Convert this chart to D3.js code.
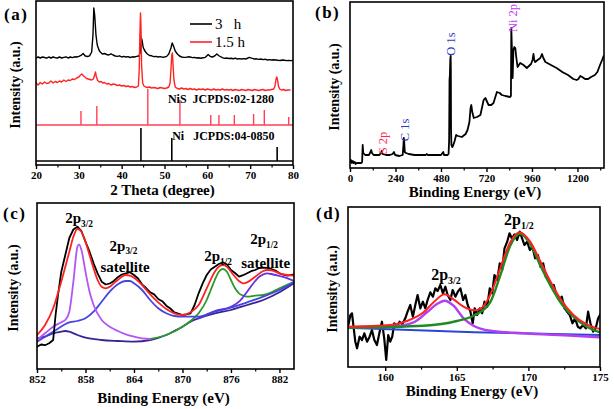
<!DOCTYPE html>
<html><head><meta charset="utf-8">
<script src="https://cdn.jsdelivr.net/npm/d3@7"></script>
<style>
body{margin:0;background:#fff}
svg{display:block;font-family:"Liberation Serif","Times New Roman",serif}
</style></head><body>
<svg id="chart" width="614" height="409"></svg>
<script>
// ---------------- DATA ----------------
// (a) XRD patterns [2theta, intensity a.u.]
const xrd3h = [[20,107],[20.5,108],[21,107],[21.5,108],[22,107.5],[22.5,106.8],[23,108],[23.5,107],[24,108],[24.5,107.3],[25,107],[25.5,108],[26,107],[26.5,107.6],[27,108.2],[27.5,107],[28,108],[28.5,107.4],[29,108.2],[29.5,108],[30,108.6],[30.5,109.6],[31,111.5],[31.5,109],[32,108.5],[32.5,109.2],[33,113],[33.3,130],[33.5,157],[33.7,150],[34,130],[34.3,120],[34.7,115],[35,113],[35.5,111],[36,111.5],[36.5,110.5],[37,110],[37.5,111.2],[38,110],[38.5,109],[39,108.6],[39.5,109.2],[40,108],[40.5,108.6],[41,108],[41.5,108.4],[42,107.5],[42.5,108.2],[43,108],[43.5,108.6],[44,109],[44.3,112],[44.6,127],[44.8,124],[45,118],[45.3,115],[45.6,113],[46,111],[46.5,109.5],[47,109.2],[47.5,108.4],[48,108.6],[48.5,108],[49,108.4],[49.5,107.8],[50,108],[50.5,108.6],[51,111],[51.5,117],[51.8,122],[52.1,119],[52.5,114],[53,111],[53.5,109],[54,108],[54.5,107.6],[55,107.6],[55.5,108.2],[56,108],[56.5,107.4],[57,107.6],[57.5,107],[58,107.2],[58.5,106.8],[59,107.2],[59.5,107.6],[60.2,110.5],[60.7,108.5],[61.2,108],[61.7,109],[62.2,111],[62.8,109],[63.5,107.4],[64,106.6],[64.5,107],[65,106.5],[65.5,106.8],[66,106.3],[66.5,106.8],[67,106],[67.5,106.4],[68,106],[68.5,106.4],[69,106],[69.8,107.6],[70.5,106.6],[71,106],[71.5,106.2],[72,105.6],[72.5,106],[73,105.4],[73.5,105.8],[74,105],[74.5,105.4],[75,105],[75.5,105.3],[76,105],[76.5,104.7],[77,104.5],[77.5,105],[78,104.8],[78.5,104.4],[79,104.6],[79.5,104.4],[80,104.5]];
const xrd15h = [[20,82],[20.5,80],[21,82.5],[21.5,81],[22,83],[22.5,81.5],[23,82],[23.5,84],[24,82],[24.5,83.5],[25,82.5],[25.5,84],[26,83],[26.5,85],[27,83.5],[27.5,85],[28,84.5],[28.5,86],[29,85.5],[29.5,87],[30,88],[30.4,90],[30.7,91],[31,89.5],[31.4,88],[31.8,86.5],[32.2,86],[32.6,85.5],[33,85],[33.4,86],[33.7,90],[33.9,93],[34.1,88],[34.4,84.5],[34.8,83],[35.2,83.5],[35.6,82],[36,82.5],[36.5,81],[37,81.5],[37.5,80],[38,81],[38.5,80.5],[39,79.5],[39.5,80],[40,79],[40.5,79.5],[41,78.5],[41.5,79],[42,78],[42.5,78.5],[43,77.5],[43.5,78],[43.9,79],[44.1,95],[44.25,130],[44.4,152],[44.5,140],[44.65,100],[44.9,82],[45.2,79],[45.6,78],[46,77.5],[46.5,78],[47,77],[47.5,77.5],[48,77],[48.5,76.5],[49,77.5],[49.5,77],[50,76.5],[50.5,77],[51,78],[51.3,82],[51.5,95],[51.7,110],[51.85,112],[52,100],[52.2,85],[52.5,78],[53,76.5],[53.5,76],[54,77],[54.5,76],[55,76.5],[55.5,75.5],[56,76.5],[56.5,75.5],[57,76],[57.5,75],[58,76],[58.5,75.5],[59,76],[59.5,75],[60,76],[60.5,75.5],[61,75],[61.5,76],[62,75],[62.5,75.5],[63,75],[63.5,76],[64,75],[64.5,75.5],[65,75],[65.5,75.5],[66,74.5],[66.5,75.5],[67,75],[67.5,74.5],[68,75.5],[68.5,75],[69,74.5],[69.5,75.5],[70,75],[70.5,74.5],[71,75.5],[71.5,75],[72,74.5],[72.5,75],[73,75.5],[73.5,74.5],[74,75],[74.5,75],[75,75.5],[75.5,76],[75.8,79],[76,85],[76.2,88],[76.4,85],[76.6,79],[76.9,76],[77.3,75],[77.8,75.5],[78.3,74.5],[78.8,75],[79.3,75]];
const nisPos = [30.5,34.2,46.1,53.6,60.8,62.7,66.3,70.8,73.3,79.0];
const nisHeight = [14,19,36,25,10,10,10,11,15,8];
const nisBase = 40;
const niPos = [44.5,51.7,76.3];
const niHeight = [33,23,14];
const niBase = 4;
const aTicks = [20,30,40,50,60,70,80];
const aMinor = [25,35,45,55,65,75];
const aLegend = ["3   h","1.5 h"];

// (b) XPS survey [binding energy eV, intensity]
const survey = [[0,6],[5,8],[10,5],[15,7],[20,5],[25,6],[30,4],[35,5],[40,5],[50,5],[60,5],[64,6],[66,18],[67,23],[68,20],[70,15],[75,14],[80,13],[90,13],[100,13],[108,16],[112,18],[116,15],[125,13],[140,13],[155,13],[163,15],[167,17],[172,14],[190,13],[210,13],[225,14],[232,16],[238,13],[260,12],[278,13],[282,23],[284,30],[286,26],[289,16],[295,15],[310,14],[340,13],[370,13],[400,13],[405,14],[410,13],[440,13],[480,13],[488,15],[492,16],[496,13],[515,13],[520,14],[523,28],[525,88],[527,93],[529,108],[531,112],[532,98],[533,38],[535,23],[540,21],[545,23],[552,27],[560,33],[570,32],[590,31],[610,34],[620,38],[630,46],[636,60],[640,63],[645,56],[653,50],[670,51],[688,53],[705,68],[714,70],[731,63],[745,63],[757,65],[775,76],[790,75],[801,73],[820,72],[845,71],[849,72],[851,140],[854,120],[858,90],[862,118],[867,121],[872,120],[877,111],[884,101],[898,105],[915,103],[933,100],[955,104],[963,108],[968,114],[972,108],[977,106],[990,108],[1004,110],[1013,114],[1020,110],[1031,106],[1060,103],[1090,100],[1120,96],[1150,93],[1178,89],[1196,88],[1205,89],[1215,92],[1225,91],[1240,89],[1256,89],[1272,91],[1292,93],[1305,96],[1319,103],[1330,108],[1338,112]];
const surveyLabels = ["S 2p","C 1s","O 1s","Ni 2p"];
const surveyLabelE = [172,290,532,860];
const surveyLabelI = [25,38,124,150];
const surveyLabelColors = ["#ff2a4a","#3434c0","#3434c0","#c040f0"];
const bTicks = [0,240,480,720,960,1200];
const bMinor = [120,360,600,840,1080,1320];

// (c) Ni 2p high resolution [eV, intensity]
const ni2pRaw = [[852,22.3],[852.5,24.5],[853,23.8],[853.5,25.7],[854,29],[854.3,54],[854.6,74],[855,97],[855.5,114],[856,131],[856.5,139.5],[857,142.3],[857.5,137.8],[858,127.3],[858.5,117.3],[859,105.7],[859.5,95.7],[860,87.3],[860.5,84.5],[861,85.5],[861.5,88],[862,91.8],[862.5,94.5],[863,95.7],[863.5,96.8],[864,94],[864.5,90.5],[865,84.7],[865.5,81],[866,76.7],[866.5,74.6],[867,70],[867.5,67.8],[868,63.3],[868.5,60.5],[869,56.7],[869.5,55.3],[870,54],[870.5,54.6],[871,55.7],[871.5,64],[872,75.7],[872.5,85.7],[873,94],[873.5,99.5],[874,102.3],[874.5,105],[875,106.7],[875.5,104.5],[876,99],[876.5,96],[877,92.3],[877.5,93.8],[878,95.7],[878.5,97.8],[879,99],[879.5,101],[880,101.3],[880.5,101.2],[881,100],[881.5,98.5],[882,95.7],[882.5,94.4],[883,93.3],[883.8,94.7]];
const ni2pFit = [[852,34],[853,44],[854,60.7],[855,87.3],[856,117.3],[856.5,132.3],[857,140],[857.5,137.3],[858,127.3],[858.5,114],[859,100.7],[859.5,89],[860,82.3],[860.5,80.7],[861,82.3],[861.5,85.7],[862,89],[862.5,92.3],[863,94],[863.5,93.3],[864,91.3],[865,84],[866,74.7],[867,66.7],[868,60],[869,55.7],[870,54],[871,56.7],[872,64],[873,80.7],[874,97.3],[874.5,102.3],[875,104],[875.5,102.3],[876,97.3],[877,88],[877.5,85.7],[878,86.7],[879,92.3],[880,98],[880.5,99],[881,98.7],[882,95.7],[883,94],[883.8,93.3]];
const ni2p32 = [[852,29],[853,35.7],[854,42.3],[855,46.7],[855.5,49],[856,57.3],[856.5,87.3],[857,122.3],[857.2,124.7],[857.5,119],[858,97.3],[858.5,77.3],[859,64],[860,49],[861,42.3],[862,38],[863,34.7],[864,32.3],[865,30.7],[866,30]];
const ni2p32Sat = [[852,27.3],[854,37.3],[856,46.7],[857,48],[858,50.7],[859,57.3],[860,67.3],[861,77.3],[862,84.7],[863,88],[863.5,88],[864,85.7],[865,79],[866,69],[867,60.7],[868,55.7],[869,53],[870,52.3],[872,52.3],[874,57.3],[876,61.3],[878,66.7],[880,72.3],[882,79],[883.8,86.7]];
const ni2pBg = [[852,30.7],[853,32.3],[854,35.7],[855,37.3],[855.5,38],[856,37.3],[857,34],[858,31.3],[860,29],[862,28],[864,27.3],[866,29],[868,34],[869,38],[870,42.3],[871,47.3],[872,50.7],[874,55.7],[876,59],[878,64],[880,69],[882,76.7],[883.8,85.7]];
const ni2p12 = [[866,30],[868,34],[870,42.3],[871,48],[872,55.7],[873,69],[873.5,79],[874,89],[874.5,97.3],[875,100],[875.5,97.3],[876,89],[876.5,80.7],[877,75.7],[877.5,73.3],[878,72.3],[879,73.3],[880,74],[881,76.7],[882,80.7],[883.8,87.3]];
const ni2p12Sat = [[872,51],[874,58],[876,62.3],[877,67.3],[878,77.3],[879,88],[879.5,92.3],[880,94.7],[880.5,95.7],[881,95],[882,93],[883,90.7],[883.8,88]];
const cTicks = [852,858,864,870,876,882];
const cMinor = [855,861,867,873,879];

// (d) S 2p high resolution [eV, intensity]
const s2pRaw = [[157.38,38.7],[157.57,52],[157.68,53.7],[157.8,38.7],[157.91,25.3],[158.03,18.7],[158.21,30.3],[158.38,27],[158.54,33.7],[158.73,25.3],[158.91,30.3],[159.07,37],[159.24,27],[159.42,22],[159.61,35.3],[159.77,45.3],[159.93,28.7],[160.07,7],[160.21,32],[160.35,25.3],[160.49,30.3],[160.63,43.7],[160.82,40.3],[161,45.3],[161.19,42.7],[161.4,48.7],[161.56,55.3],[161.75,62],[161.93,50.3],[162.1,62],[162.26,72],[162.45,58.7],[162.63,65.3],[162.8,58.7],[162.96,67],[163.15,74.7],[163.33,70.3],[163.5,78.7],[163.66,76],[163.85,82],[164.03,73.7],[164.2,80.3],[164.36,72],[164.55,67],[164.71,77],[164.9,70.3],[165.07,75.3],[165.25,78.7],[165.44,67],[165.6,72],[165.76,62],[165.95,55.3],[166.11,43.7],[166.25,58.7],[166.42,52],[166.6,58.7],[166.77,53.7],[166.93,65.3],[167.12,60.3],[167.3,78.7],[167.47,73.7],[167.63,92],[167.82,87],[168,103.7],[168.17,97],[168.33,118.7],[168.52,125.3],[168.68,133.7],[168.84,128.7],[169.03,132.7],[169.21,127],[169.4,135.3],[169.56,128.7],[169.72,122],[169.91,125.3],[170.1,117],[170.28,120.3],[170.47,108.7],[170.66,112],[170.84,100.3],[171.03,103.7],[171.21,90.3],[171.4,87],[171.59,80.3],[171.77,82],[171.96,72],[172.15,67],[172.33,70.3],[172.52,58.7],[172.7,55.3],[172.89,52],[173.08,43.7],[173.26,48.7],[173.45,40.3],[173.63,38.7],[173.82,42],[174.01,38.7],[174.17,55.3],[174.33,43.7],[174.52,35.3],[174.7,38.7],[174.87,48.7],[175,52]];
const s2pFit = [[157.38,40.3],[160.35,42],[161.51,46],[162.68,54.7],[163.38,64.7],[164.14,72.7],[164.77,67.7],[165.47,60.3],[166.16,56.7],[166.63,58],[167.33,72],[168.03,98.7],[168.73,124.7],[169.38,134.7],[170.12,125.3],[170.82,106],[171.52,86],[172.21,68.7],[173.14,52],[174.07,42.7],[175,38]];
const s2p32 = [[157.38,39.3],[160.35,40.3],[161.98,44.7],[162.91,54.7],[163.61,63],[164.14,66.3],[164.77,61.3],[165.47,48.7],[166.16,41.3],[167.33,36.3],[169.65,33.7],[173.14,31.3],[175,29.7]];
const s2p12 = [[157.38,39.3],[162.68,41.3],[165,46],[166.16,51.3],[167.33,64.7],[168.03,91.3],[168.73,121.3],[169.38,133.3],[170.12,123.3],[170.82,102],[171.52,82],[172.21,65.3],[173.14,50.3],[174.07,40.3],[175,34.7]];
const s2pBg = [[157.38,39.3],[166.2,34.7],[175,32]];
const dTicks = [160,165,170,175];
const dMinor = [162.5,167.5,172.5];

// ---------------- DRAWING ----------------
const svg = d3.select("#chart");
const F = '"Liberation Serif","Times New Roman",serif';

function panel(id, box, xDom, yDom, ticks, minor, xTitle, titleY, letter, letterPos, yTitleX) {
  const x = d3.scaleLinear().domain(xDom).range([box.l, box.r]);
  const y = d3.scaleLinear().domain(yDom).range([box.b, box.t]);
  const g = svg.append("g");
  svg.append("clipPath").attr("id", "clip" + id).append("rect")
    .attr("x", box.l).attr("y", box.t).attr("width", box.r - box.l).attr("height", box.b - box.t);
  const plot = g.append("g").attr("clip-path", `url(#clip${id})`);
  const ax = g.append("g").attr("transform", `translate(0,${box.b})`)
    .call(d3.axisBottom(x).tickValues(ticks).tickSize(4).tickSizeOuter(0).tickPadding(2).tickFormat(d3.format("d")));
  ax.select(".domain").remove();
  ax.selectAll("line").attr("stroke", "#000").attr("stroke-width", 1.4);
  ax.selectAll("text").attr("font-family", F).attr("font-weight", "bold").attr("font-size", 11).attr("fill", "#000");
  const am = g.append("g").attr("transform", `translate(0,${box.b})`)
    .call(d3.axisBottom(x).tickValues(minor).tickSize(2.5).tickSizeOuter(0).tickFormat(""));
  am.select(".domain").remove();
  am.selectAll("line").attr("stroke", "#000").attr("stroke-width", 1.2);
  g.append("rect").attr("x", box.l).attr("y", box.t).attr("width", box.r - box.l).attr("height", box.b - box.t)
    .attr("fill", "none").attr("stroke", "#000").attr("stroke-width", 1.6);
  g.append("text").attr("x", (box.l + box.r) / 2 - 2).attr("y", titleY).attr("text-anchor", "middle")
    .attr("font-family", F).attr("font-weight", "bold").attr("font-size", 15).text(xTitle);
  g.append("text").attr("transform", `translate(${yTitleX},${(box.t + box.b) / 2 + 2}) rotate(-90)`)
    .attr("text-anchor", "middle").attr("dominant-baseline", "central")
    .attr("font-family", F).attr("font-weight", "bold").attr("font-size", 14).text("Intensity (a.u.)");
  g.append("text").attr("x", letterPos[0]).attr("y", letterPos[1])
    .attr("font-family", F).attr("font-weight", "bold").attr("font-size", 17).attr("letter-spacing", 1.5).text(letter);
  return {x, y, g, plot};
}

function drawLine(p, data, color, w, curve) {
  p.plot.append("path").datum(data)
    .attr("d", d3.line().x(d => p.x(d[0])).y(d => p.y(d[1])).curve(curve || d3.curveLinear))
    .attr("fill", "none").attr("stroke", color).attr("stroke-width", w)
    .attr("stroke-linejoin", "round").attr("stroke-linecap", "round");
}

function peakLabel(p, txt, sub, e, i, fs) {
  const t = p.g.append("text").attr("x", p.x(e)).attr("y", p.y(i)).attr("text-anchor", "middle")
    .attr("font-family", F).attr("font-weight", "bold").attr("font-size", fs);
  t.append("tspan").text(txt);
  if (sub) t.append("tspan").attr("font-size", fs * 0.62).attr("dy", 3.5).text(sub);
}

// ---- (a)
const pa = panel("a", {l:36, r:293, t:1, b:165}, [20, 80], [0, 164], aTicks, aMinor,
  "2 Theta (degree)", 195, "(a)", [4, 20], 15);
const RED = "#ff2424";
drawLine(pa, xrd3h, "#000", 1.4);
drawLine(pa, xrd15h, RED, 1.4);
pa.plot.append("line").attr("x1", pa.x(20)).attr("x2", pa.x(80)).attr("y1", pa.y(nisBase)).attr("y2", pa.y(nisBase))
  .attr("stroke", "#ff4050").attr("stroke-width", 1.4);
pa.plot.append("line").attr("x1", pa.x(20)).attr("x2", pa.x(80)).attr("y1", pa.y(niBase)).attr("y2", pa.y(niBase))
  .attr("stroke", "#000").attr("stroke-width", 1.4);
pa.plot.selectAll(".nis").data(nisPos).join("line")
  .attr("x1", d => pa.x(d)).attr("x2", d => pa.x(d))
  .attr("y1", pa.y(nisBase)).attr("y2", (d, i) => pa.y(nisBase + nisHeight[i]))
  .attr("stroke", "#ff4050").attr("stroke-width", 1.4);
pa.plot.selectAll(".ni").data(niPos).join("line")
  .attr("x1", d => pa.x(d)).attr("x2", d => pa.x(d))
  .attr("y1", pa.y(niBase)).attr("y2", (d, i) => pa.y(niBase + niHeight[i]))
  .attr("stroke", "#000").attr("stroke-width", 1.6);
pa.g.append("text").attr("x", pa.x(50.8)).attr("y", pa.y(62)).attr("font-family", F).attr("font-weight", "bold")
  .attr("font-size", 12).style("white-space", "pre").text("NiS  JCPDS:02-1280");
pa.g.append("text").attr("x", pa.x(51.8)).attr("y", pa.y(25)).attr("font-family", F).attr("font-weight", "bold")
  .attr("font-size", 12).style("white-space", "pre").text("Ni   JCPDS:04-0850");
[["#000", 24], [RED, 42]].forEach((c, i) => {
  pa.g.append("line").attr("x1", 190).attr("x2", 212).attr("y1", c[1]).attr("y2", c[1]).attr("stroke", c[0]).attr("stroke-width", 1.6);
  pa.g.append("text").attr("x", 215).attr("y", c[1] + 5).attr("font-family", F).attr("font-size", 15)
    .style("white-space", "pre").text(aLegend[i]);
});

// ---- (b)
const pb = panel("b", {l:350, r:604, t:2, b:168}, [0, 1340], [0, 166], bTicks, bMinor,
  "Binding Energy (eV)", 197, "(b)", [315, 18], 334);
drawLine(pb, survey, "#000", 1.8);
surveyLabels.forEach((s, i) => {
  pb.g.append("text").attr("transform", `translate(${pb.x(surveyLabelE[i]) + 4},${pb.y(surveyLabelI[i])}) rotate(-90)`)
    .attr("text-anchor", "middle").attr("font-family", F).attr("font-size", 12.5)
    .attr("fill", surveyLabelColors[i]).text(s);
});

// ---- (c)
const pc = panel("c", {l:37, r:294, t:203, b:369}, [852, 883.8], [0, 166], cTicks, cMinor,
  "Binding Energy (eV)", 403, "(c)", [3, 219], 13);
const smooth = d3.curveMonotoneX;
drawLine(pc, ni2pBg, "#3b2396", 1.8, smooth);
drawLine(pc, ni2p12, "#2a9a2a", 1.8, smooth);
drawLine(pc, ni2p12Sat, "#6a2ee0", 1.8, smooth);
drawLine(pc, ni2p32Sat, "#4444e0", 1.8, smooth);
drawLine(pc, ni2p32, "#b455f2", 1.8, smooth);
drawLine(pc, ni2pRaw, "#000", 1.8);
drawLine(pc, ni2pFit, "#ff2020", 1.8, smooth);
peakLabel(pc, "2p", "3/2", 857.2, 146, 15);
peakLabel(pc, "2p", "3/2", 862.7, 118.5, 15);
pc.g.append("text").attr("x", pc.x(862.9)).attr("y", pc.y(97.5)).attr("text-anchor", "middle")
  .attr("font-family", F).attr("font-weight", "bold").attr("font-size", 15).text("satellite");
peakLabel(pc, "2p", "1/2", 874.4, 108, 15);
peakLabel(pc, "2p", "1/2", 880.1, 125, 15);
pc.g.append("text").attr("x", pc.x(880.3)).attr("y", pc.y(101)).attr("text-anchor", "middle")
  .attr("font-family", F).attr("font-weight", "bold").attr("font-size", 15).text("satellite");

// ---- (d)
const pd = panel("d", {l:348, r:600, t:207, b:367}, [157.4, 175], [0, 160], dTicks, dMinor,
  "Binding Energy (eV)", 396, "(d)", [316, 219], 332);
drawLine(pd, s2pRaw, "#000", 2.2);
drawLine(pd, s2pBg, "#2846d8", 2, smooth);
drawLine(pd, s2p32, "#b040f0", 2.4, smooth);
drawLine(pd, s2p12, "#1f8a1f", 2.4, smooth);
drawLine(pd, s2pFit, "#ff2020", 2, smooth);
peakLabel(pd, "2p", "1/2", 169.33, 142, 16);
peakLabel(pd, "2p", "3/2", 164.24, 87, 16);
</script></body></html>
